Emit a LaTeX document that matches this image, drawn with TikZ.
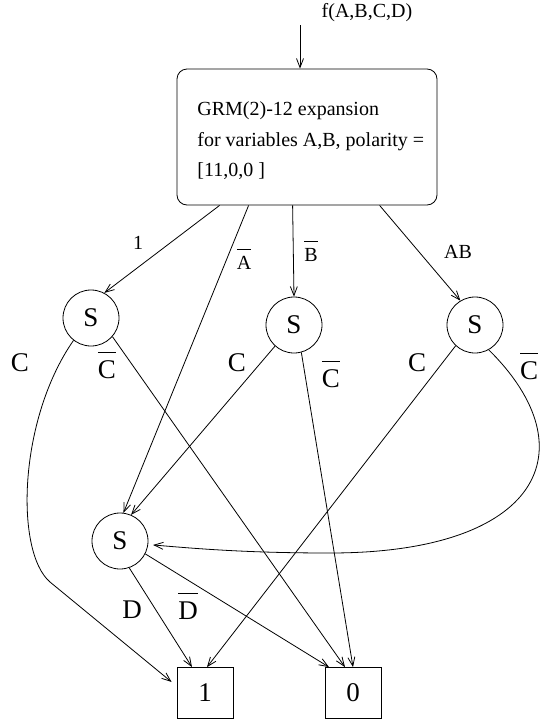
\documentclass[tikz,border=0pt]{standalone}
\usepackage{fontspec}
\setmainfont{Liberation Serif}
\usetikzlibrary{arrows.meta,calc}
\newcommand\bigtxt{\fontsize{27}{32}\selectfont}
\newcommand\smtxt{\fontsize{20}{30.5}\selectfont}
\newcommand\ovl[1]{\(\overline{\mbox{\rule{0pt}{0.92em}#1}}\)}
\begin{document}
\begin{tikzpicture}[x=1pt,y=-1pt, line width=0.8pt,
  arr/.style={-{Straight Barb[length=9pt,width=7pt]}},
  snode/.style={circle,draw,minimum size=56pt,inner sep=0pt,font=\bigtxt},
  term/.style={draw,minimum width=56pt,minimum height=51pt,inner sep=0pt,font=\bigtxt},
  sl/.style={inner sep=0pt,font=\smtxt},
  bl/.style={inner sep=0pt,font=\bigtxt}]
\useasboundingbox (0,0) rectangle (540,723);
\node[sl] (f) at (367,13) {f(A,B,C,D)};
\coordinate (fin) at (300,25);
\node[draw, rounded corners=10pt, minimum width=260pt, minimum height=136pt] (grm) at (307,137) {};
\node[sl, anchor=west, align=left] (grmtxt) at (197,141) {GRM(2)-12 expansion\\for variables A,B, polarity =\\{[}11,0,0 ]};
\node[snode] (s1) at (91,318) {S};
\node[snode] (s2) at (294,325) {S};
\node[snode] (s3) at (475,325) {S};
\node[snode] (s4) at (120,541) {S};
\node[term] (one) at (205,693) {1};
\node[term] (zero) at (353,693) {0};
\draw[arr] (fin) -- (fin |- grm.north);
\draw[arr] ($(grm.south west)+(43,0)$) -- (s1.62);
\draw[arr] ($(grm.south west)+(72,0)$) -- (s4.83);
\draw[arr] ($(grm.south west)+(116,0)$) -- (s2.north);
\draw[arr] ($(grm.south west)+(203,0)$) -- (s3.121);
\draw[arr] (s1.232) .. controls (18,420) and (15,552) .. (50,582) -- ($(one.west)+(-5,-11)$);
\draw[arr] (s1.319) -- ($(zero.north)+(-8,0)$);
\draw[arr] (s2.228) -- (s4.67);
\draw[arr] (s2.285) -- (zero.north);
\draw[arr] (s3.227) -- ($(one.north)+(2,0)$);
\draw[arr] (s3.299) .. controls (590,450) and (540,553) .. (330,553) .. controls (250,553) and (200,549) .. ($(s4.352)+(5,0)$);
\draw[arr] (s4.289) -- ($(one.north)+(-13,0)$);
\draw[arr] (s4.333) -- ($(zero.north)+(-24,0)$);
\node[sl] (l1) at (138,243) {1};
\node[sl] (la) at (244,259) {\ovl{A}};
\node[sl] (lb) at (311,251) {\ovl{B}};
\node[sl] (lab) at (458,252) {AB};
\node[bl] (lc1) at (20,363) {C};
\node[bl] (lcb1) at (107,365) {\ovl{C}};
\node[bl] (lc2) at (237,363) {C};
\node[bl] (lcb2) at (331,374) {\ovl{C}};
\node[bl] (lc3) at (417,363) {C};
\node[bl] (lcb3) at (529,366) {\ovl{C}};
\node[bl] (ld) at (132,610) {D};
\node[bl] (ldb) at (188,606) {\ovl{D}};
\end{tikzpicture}
\end{document}
